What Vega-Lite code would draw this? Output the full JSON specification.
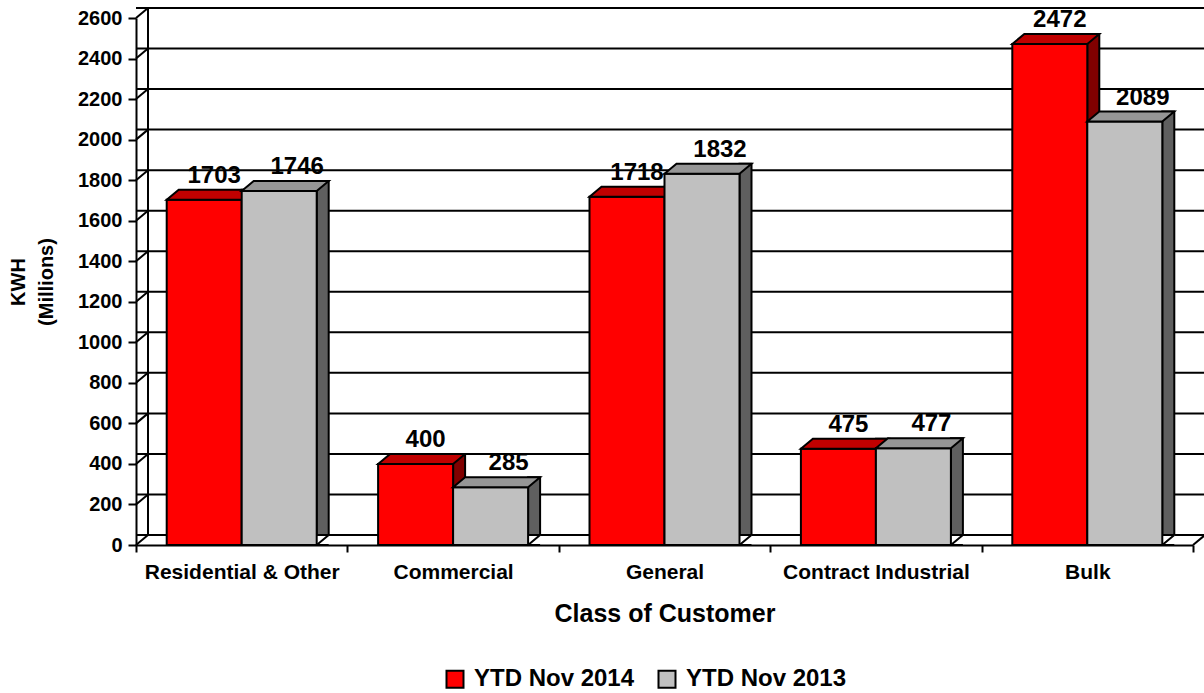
{
  "$schema": "https://vega.github.io/schema/vega-lite/v6.json",
  "width": 1057,
  "height": 527,
  "autosize": {"type": "none"},
  "padding": {"left": 136, "top": 18, "right": 11, "bottom": 148},
  "background": "white",
  "config": {"view": {"stroke": null}, "font": "Liberation Sans"},
  "datasets": {
    "bars": [
      {"category": "Residential & Other", "series": "YTD Nov 2014", "kwh": 1703},
      {"category": "Residential & Other", "series": "YTD Nov 2013", "kwh": 1746},
      {"category": "Commercial", "series": "YTD Nov 2014", "kwh": 400},
      {"category": "Commercial", "series": "YTD Nov 2013", "kwh": 285},
      {"category": "General", "series": "YTD Nov 2014", "kwh": 1718},
      {"category": "General", "series": "YTD Nov 2013", "kwh": 1832},
      {"category": "Contract Industrial", "series": "YTD Nov 2014", "kwh": 475},
      {"category": "Contract Industrial", "series": "YTD Nov 2013", "kwh": 477},
      {"category": "Bulk", "series": "YTD Nov 2014", "kwh": 2472},
      {"category": "Bulk", "series": "YTD Nov 2013", "kwh": 2089}
    ],
    "ticks": [
      {"kwh": 0}, {"kwh": 200}, {"kwh": 400}, {"kwh": 600}, {"kwh": 800},
      {"kwh": 1000}, {"kwh": 1200}, {"kwh": 1400}, {"kwh": 1600}, {"kwh": 1800},
      {"kwh": 2000}, {"kwh": 2200}, {"kwh": 2400}, {"kwh": 2600}
    ]
  },
  "data": {"name": "bars"},
  "layer": [
    {
      "data": {"name": "ticks"},
      "mark": {"type": "rule", "color": "black", "strokeWidth": 2, "xOffset": 12, "x2Offset": 12, "yOffset": -10},
      "encoding": {
        "y": {
          "field": "kwh", "type": "quantitative",
          "scale": {"domain": [0, 2600], "nice": false},
          "axis": {
            "title": ["KWH", "(Millions)"],
            "values": [0, 200, 400, 600, 800, 1000, 1200, 1400, 1600, 1800, 2000, 2200, 2400, 2600],
            "format": "d",
            "grid": false,
            "labelFontSize": 20, "labelFontWeight": "bold", "labelColor": "black", "labelPadding": 6,
            "tickSize": 8, "tickWidth": 2, "tickColor": "black",
            "domainColor": "black", "domainWidth": 2,
            "titleFontSize": 20, "titleFontWeight": "bold", "titleColor": "black",
            "titleLineHeight": 28, "titlePadding": 21, "zindex": 1
          }
        }
      }
    },
    {
      "data": {"name": "ticks"},
      "transform": [{"filter": "datum.kwh == 0"}],
      "mark": {"type": "rule", "color": "black", "strokeWidth": 2, "xOffset": 12, "yOffset": -10, "y2Offset": -10},
      "encoding": {
        "x": {"datum": "Residential & Other", "type": "nominal", "bandPosition": 0},
        "y": {"datum": 0, "type": "quantitative"},
        "y2": {"datum": 2600}
      }
    },
    {
      "data": {"name": "ticks"},
      "mark": {"type": "point", "shape": "M 0,0 L 12,-10", "size": 4, "filled": false, "stroke": "black", "strokeWidth": 2, "opacity": 1},
      "encoding": {
        "x": {"datum": "Residential & Other", "type": "nominal", "bandPosition": 0},
        "y": {"field": "kwh", "type": "quantitative"}
      }
    },
    {
      "data": {"name": "ticks"},
      "transform": [{"filter": "datum.kwh == 0"}],
      "mark": {"type": "point", "shape": "M 0,0 L 12,-10", "size": 4, "filled": false, "stroke": "black", "strokeWidth": 2, "opacity": 1},
      "encoding": {
        "x": {"datum": "Bulk", "type": "nominal", "bandPosition": 1},
        "y": {"field": "kwh", "type": "quantitative"}
      }
    },
    {
      "transform": [{"filter": "datum.series == 'YTD Nov 2014'"}],
      "mark": {"type": "bar", "width": 12, "xOffset": 6, "yOffset": -10, "fill": "#800000", "stroke": "black", "strokeWidth": 2},
      "encoding": {
        "x": {"field": "category", "type": "nominal"},
        "y": {"field": "kwh", "type": "quantitative"}
      }
    },
    {
      "transform": [{"filter": "datum.series == 'YTD Nov 2014'"}],
      "mark": {"type": "bar", "width": 75, "xOffset": -37.5, "stroke": "black", "strokeWidth": 2, "opacity": 1},
      "encoding": {
        "x": {
          "field": "category", "type": "nominal",
          "scale": {"domain": ["Residential & Other", "Commercial", "General", "Contract Industrial", "Bulk"], "paddingInner": 0, "paddingOuter": 0},
          "axis": {
            "title": "Class of Customer", "labelAngle": 0, "labelAlign": "center", "labelLimit": 400, "tickBand": "extent",
            "labelFontSize": 21, "labelFontWeight": "bold", "labelColor": "black", "labelPadding": 20,
            "tickSize": 7, "tickWidth": 2, "tickColor": "black",
            "domainColor": "black", "domainWidth": 2,
            "titleFontSize": 25, "titleFontWeight": "bold", "titleColor": "black", "titlePadding": 19,
            "zindex": 1
          }
        },
        "y": {"field": "kwh", "type": "quantitative"},
        "color": {
          "field": "series", "type": "nominal",
          "scale": {"domain": ["YTD Nov 2014", "YTD Nov 2013"], "range": ["#FF0000", "#C0C0C0"]},
          "legend": {
            "orient": "none", "legendX": 307, "legendY": 649, "direction": "horizontal", "title": null,
            "symbolType": "square", "symbolSize": 289, "symbolStrokeColor": "black", "symbolStrokeWidth": 2,
            "labelFontSize": 24, "labelFontWeight": "bold", "labelColor": "black", "labelFont": "Liberation Sans",
            "labelLimit": 400, "columnPadding": 19, "labelOffset": 7
          }
        }
      }
    },
    {
      "transform": [{"filter": "datum.series == 'YTD Nov 2014'"}],
      "mark": {"type": "point", "shape": "M -37.5,0 L -25.5,-10 L 49.5,-10 L 37.5,0 Z", "size": 4, "filled": true, "fill": "#C00000", "stroke": "black", "strokeWidth": 2, "opacity": 1, "xOffset": -37.5},
      "encoding": {
        "x": {"field": "category", "type": "nominal"},
        "y": {"field": "kwh", "type": "quantitative"}
      }
    },
    {
      "transform": [{"filter": "datum.series == 'YTD Nov 2013'"}],
      "mark": {"type": "bar", "width": 12, "xOffset": 81, "yOffset": -10, "fill": "#5F5F5F", "stroke": "black", "strokeWidth": 2},
      "encoding": {
        "x": {"field": "category", "type": "nominal"},
        "y": {"field": "kwh", "type": "quantitative"}
      }
    },
    {
      "transform": [{"filter": "datum.series == 'YTD Nov 2013'"}],
      "mark": {"type": "point", "shape": "M 12,0 L 0,0 L 12,-10", "size": 4, "filled": true, "fill": "white", "stroke": "black", "strokeWidth": 2, "opacity": 1, "xOffset": 75},
      "encoding": {
        "x": {"field": "category", "type": "nominal"},
        "y": {"datum": 0, "type": "quantitative"}
      }
    },
    {
      "transform": [{"filter": "datum.series == 'YTD Nov 2013'"}],
      "mark": {"type": "bar", "width": 75, "xOffset": 37.5, "stroke": "black", "strokeWidth": 2, "opacity": 1},
      "encoding": {
        "x": {"field": "category", "type": "nominal"},
        "y": {"field": "kwh", "type": "quantitative"},
        "color": {"field": "series", "type": "nominal"}
      }
    },
    {
      "transform": [{"filter": "datum.series == 'YTD Nov 2013'"}],
      "mark": {"type": "point", "shape": "M -37.5,0 L -25.5,-10 L 49.5,-10 L 37.5,0 Z", "size": 4, "filled": true, "fill": "#969696", "stroke": "black", "strokeWidth": 2, "opacity": 1, "xOffset": 37.5},
      "encoding": {
        "x": {"field": "category", "type": "nominal"},
        "y": {"field": "kwh", "type": "quantitative"}
      }
    },
    {
      "transform": [{"filter": "datum.series == 'YTD Nov 2014'"}],
      "mark": {"type": "text", "xOffset": -27.5, "dy": -24, "baseline": "middle", "fontSize": 24, "fontWeight": "bold", "color": "black"},
      "encoding": {
        "x": {"field": "category", "type": "nominal"},
        "y": {"field": "kwh", "type": "quantitative"},
        "text": {"field": "kwh", "type": "quantitative"}
      }
    },
    {
      "transform": [{"filter": "datum.series == 'YTD Nov 2013'"}],
      "mark": {"type": "text", "xOffset": 55.5, "dy": -24, "baseline": "middle", "fontSize": 24, "fontWeight": "bold", "color": "black"},
      "encoding": {
        "x": {"field": "category", "type": "nominal"},
        "y": {"field": "kwh", "type": "quantitative"},
        "text": {"field": "kwh", "type": "quantitative"}
      }
    }
  ]
}
